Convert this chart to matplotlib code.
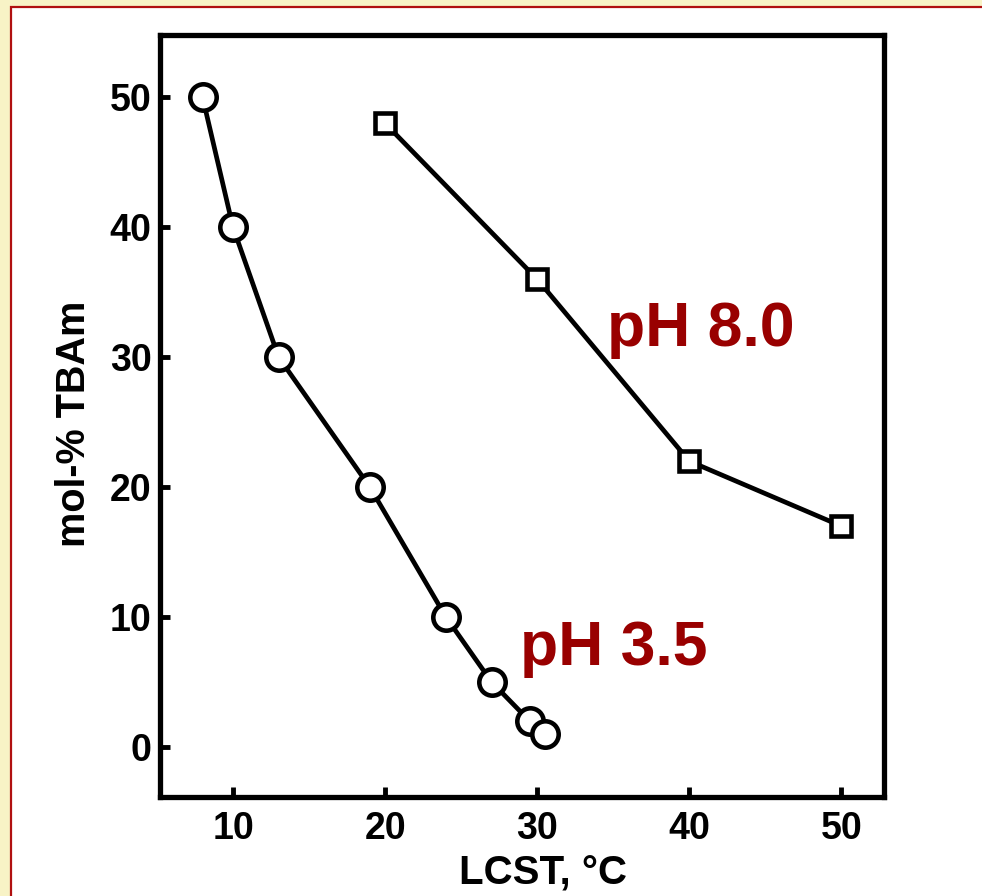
import matplotlib.pyplot as plt
from matplotlib.patches import Rectangle

# data
lcst_ph35 = [8, 10, 13, 19, 24, 27, 29.5, 30.5]
tbam_ph35 = [50, 40, 30, 20, 10, 5, 2, 1]
lcst_ph80 = [20, 30, 40, 50]
tbam_ph80 = [48, 36, 22, 17]
x_ticks = [10, 20, 30, 40, 50]
y_ticks = [0, 10, 20, 30, 40, 50]

plt.rcParams['font.family'] = ['Liberation Sans', 'DejaVu Sans']
plt.rcParams['font.weight'] = 'bold'


def background(fig):
    """Draws the yellow slide margin and the white panel with a red border."""
    fig.patches.append(Rectangle((0, 0), 1, 1, transform=fig.transFigure,
                                 facecolor='#f8f3c6', edgecolor='none', zorder=-3))
    fig.patches.append(Rectangle((11 / 982, -0.1), 1.2, 1.1 - 7 / 896,
                                 transform=fig.transFigure, facecolor='white',
                                 edgecolor='#b01010', linewidth=1.6, zorder=-2))


def config(ax):
    """Axis limits, ticks and labels."""
    ax.set_xlim(5.2, 52.8)
    ax.set_ylim(-3.85, 54.8)
    ax.set_xticks(x_ticks)
    ax.set_yticks(y_ticks)
    ax.tick_params(direction='in', length=7, width=3.5, labelsize=27)
    ax.tick_params(axis='x', pad=10)
    ax.tick_params(axis='y', pad=6)
    for spine in ax.spines.values():
        spine.set_linewidth(3.8)
    ax.set_xlabel('LCST, °C', fontsize=29, fontweight='bold')
    ax.set_ylabel('mol-% TBAm', fontsize=28.5, fontweight='bold')
    ax.xaxis.set_label_coords(0.529, -0.075)
    ax.yaxis.set_label_coords(-0.092, 0.4895)


fig = plt.figure(figsize=(9.82, 8.96), dpi=100)
background(fig)
ax = fig.add_axes([160 / 982, 99 / 896, 724 / 982, 762 / 896])
ax.patch.set_alpha(0)

ax.plot(lcst_ph35, tbam_ph35, color='black', linewidth=3.4, marker='o',
        markersize=19, markerfacecolor='white', markeredgecolor='black',
        markeredgewidth=3.3, zorder=3)
ax.plot(lcst_ph80, tbam_ph80, color='black', linewidth=3.4, marker='s',
        markersize=14, markerfacecolor='white', markeredgecolor='black',
        markeredgewidth=3.3, zorder=3)

ax.text(34.6, 30.9, 'pH 8.0', color='#990000', fontsize=45,
        fontweight='bold', va='baseline', ha='left')
ax.text(28.9, 6.3, 'pH 3.5', color='#990000', fontsize=45,
        fontweight='bold', va='baseline', ha='left')

config(ax)
fig.savefig('out.png', dpi=100)
